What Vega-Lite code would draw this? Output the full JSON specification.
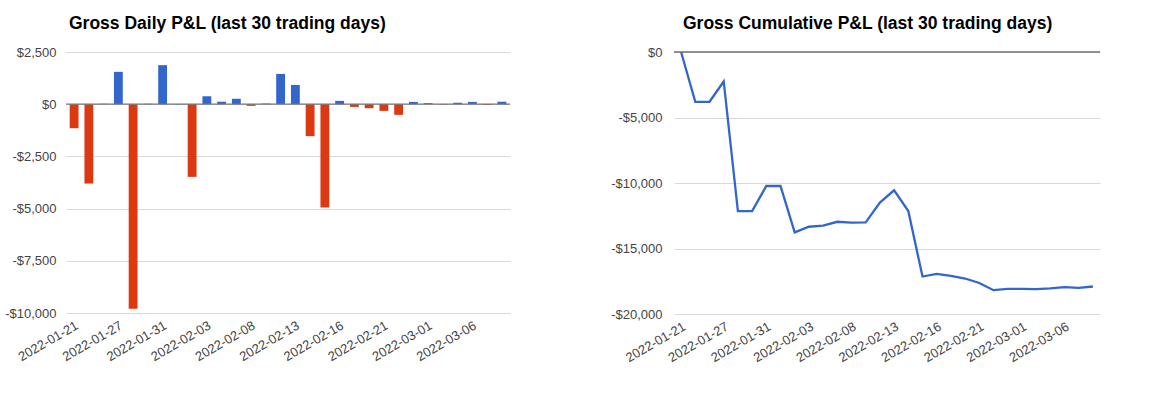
{
  "$schema": "https://vega.github.io/schema/vega-lite/v6.json",
  "padding": {"left": 4, "top": 14, "right": 0, "bottom": 0},
  "background": "white",
  "datasets": {
    "d": [
      {"date": "2022-01-21", "pnl": -1150, "cum": 0},
      {"date": "2022-01-24", "pnl": -3800, "cum": -3800},
      {"date": "2022-01-25", "pnl": 20, "cum": -3800},
      {"date": "2022-01-27", "pnl": 1550, "cum": -2250},
      {"date": "2022-01-28", "pnl": -9800, "cum": -12140},
      {"date": "2022-01-30", "pnl": 20, "cum": -12140},
      {"date": "2022-01-31", "pnl": 1870, "cum": -10230},
      {"date": "2022-02-01", "pnl": 10, "cum": -10230},
      {"date": "2022-02-02", "pnl": -3480, "cum": -13770},
      {"date": "2022-02-03", "pnl": 380, "cum": -13340},
      {"date": "2022-02-04", "pnl": 120, "cum": -13260},
      {"date": "2022-02-07", "pnl": 260, "cum": -12960},
      {"date": "2022-02-08", "pnl": -80, "cum": -13030},
      {"date": "2022-02-09", "pnl": 30, "cum": -13000},
      {"date": "2022-02-10", "pnl": 1450, "cum": -11500},
      {"date": "2022-02-13", "pnl": 920, "cum": -10560},
      {"date": "2022-02-14", "pnl": -1530, "cum": -12140},
      {"date": "2022-02-15", "pnl": -4950, "cum": -17140},
      {"date": "2022-02-16", "pnl": 160, "cum": -16940},
      {"date": "2022-02-17", "pnl": -130, "cum": -17090},
      {"date": "2022-02-18", "pnl": -190, "cum": -17290},
      {"date": "2022-02-21", "pnl": -320, "cum": -17630},
      {"date": "2022-02-22", "pnl": -510, "cum": -18180},
      {"date": "2022-02-23", "pnl": 110, "cum": -18080},
      {"date": "2022-03-01", "pnl": 50, "cum": -18080},
      {"date": "2022-03-02", "pnl": -20, "cum": -18100},
      {"date": "2022-03-03", "pnl": 70, "cum": -18050},
      {"date": "2022-03-06", "pnl": 110, "cum": -17950},
      {"date": "2022-03-07", "pnl": -40, "cum": -18000},
      {"date": "2022-03-08", "pnl": 120, "cum": -17900}
    ]
  },
  "spacing": 99,
  "hconcat": [
    {
      "width": 444,
      "height": 261,
      "title": {"text": "Gross Daily P&L (last 30 trading days)", "anchor": "start", "frame": "group", "dx": 3, "fontSize": 17.5, "fontWeight": "bold", "color": "#000000", "offset": 14},
      "data": {"name": "d"},
      "layer": [
        {
          "mark": {"type": "bar"},
          "encoding": {
            "x": {
              "field": "date", "type": "ordinal", "sort": null,
              "scale": {"paddingInner": 0.4, "paddingOuter": 0.25},
              "axis": {"values": ["2022-01-21", "2022-01-27", "2022-01-31", "2022-02-03", "2022-02-08", "2022-02-13", "2022-02-16", "2022-02-21", "2022-03-01", "2022-03-06"], "labelAngle": -30, "labelAlign": "right", "labelBaseline": "top", "labelPadding": 6, "labelOverlap": false, "grid": false}
            },
            "y": {
              "field": "pnl", "type": "quantitative",
              "scale": {"domain": [-10000, 2500], "nice": false},
              "axis": {"values": [-10000, -7500, -5000, -2500, 0, 2500], "labelExpr": "(datum.value < 0 ? '-' : '') + '$' + format(abs(datum.value), ',')", "labelPadding": 10, "grid": true}
            },
            "color": {"condition": {"test": "datum.pnl >= 0", "value": "#3366cc"}, "value": "#dc3912"}
          }
        },
        {
          "data": {"values": [{"z": 0}]},
          "mark": {"type": "rule", "color": "#777777", "strokeWidth": 1.3},
          "encoding": {"y": {"field": "z", "type": "quantitative"}}
        }
      ]
    },
    {
      "width": 426,
      "height": 262,
      "title": {"text": "Gross Cumulative P&L (last 30 trading days)", "anchor": "start", "frame": "group", "dx": 9, "fontSize": 17.5, "fontWeight": "bold", "color": "#000000", "offset": 14},
      "data": {"name": "d"},
      "layer": [
        {
          "mark": {"type": "line", "color": "#3366cc", "strokeWidth": 2.3},
          "encoding": {
            "x": {
              "field": "date", "type": "ordinal", "sort": null,
              "scale": {"padding": 0.5},
              "axis": {"values": ["2022-01-21", "2022-01-27", "2022-01-31", "2022-02-03", "2022-02-08", "2022-02-13", "2022-02-16", "2022-02-21", "2022-03-01", "2022-03-06"], "labelAngle": -30, "labelAlign": "right", "labelBaseline": "top", "labelPadding": 6, "labelOverlap": false, "grid": false}
            },
            "y": {
              "field": "cum", "type": "quantitative",
              "scale": {"domain": [-20000, 0], "nice": false},
              "axis": {
                "values": [-20000, -17500, -15000, -12500, -10000, -7500, -5000, -2500, 0],
                "labelExpr": "datum.value % 5000 === 0 ? (datum.value < 0 ? '-' : '') + '$' + format(abs(datum.value), ',') : ''",
                "labelPadding": 12, "grid": true,
                "gridColor": {"condition": {"test": "datum.value % 5000 === 0", "value": "#d9d9d9"}, "value": "#ececec"}
              }
            }
          }
        },
        {
          "data": {"values": [{"z": 0}]},
          "mark": {"type": "rule", "color": "#6f6f6f", "strokeWidth": 1.6},
          "encoding": {"y": {"field": "z", "type": "quantitative"}}
        }
      ]
    }
  ],
  "config": {
    "font": "Liberation Sans",
    "view": {"stroke": null},
    "axis": {"labelFont": "Liberation Sans", "labelFontSize": 13, "labelColor": "#444444", "domain": false, "ticks": false, "title": null, "gridColor": "#d9d9d9", "gridWidth": 1.2},
    "title": {"font": "Liberation Sans"}
  }
}
